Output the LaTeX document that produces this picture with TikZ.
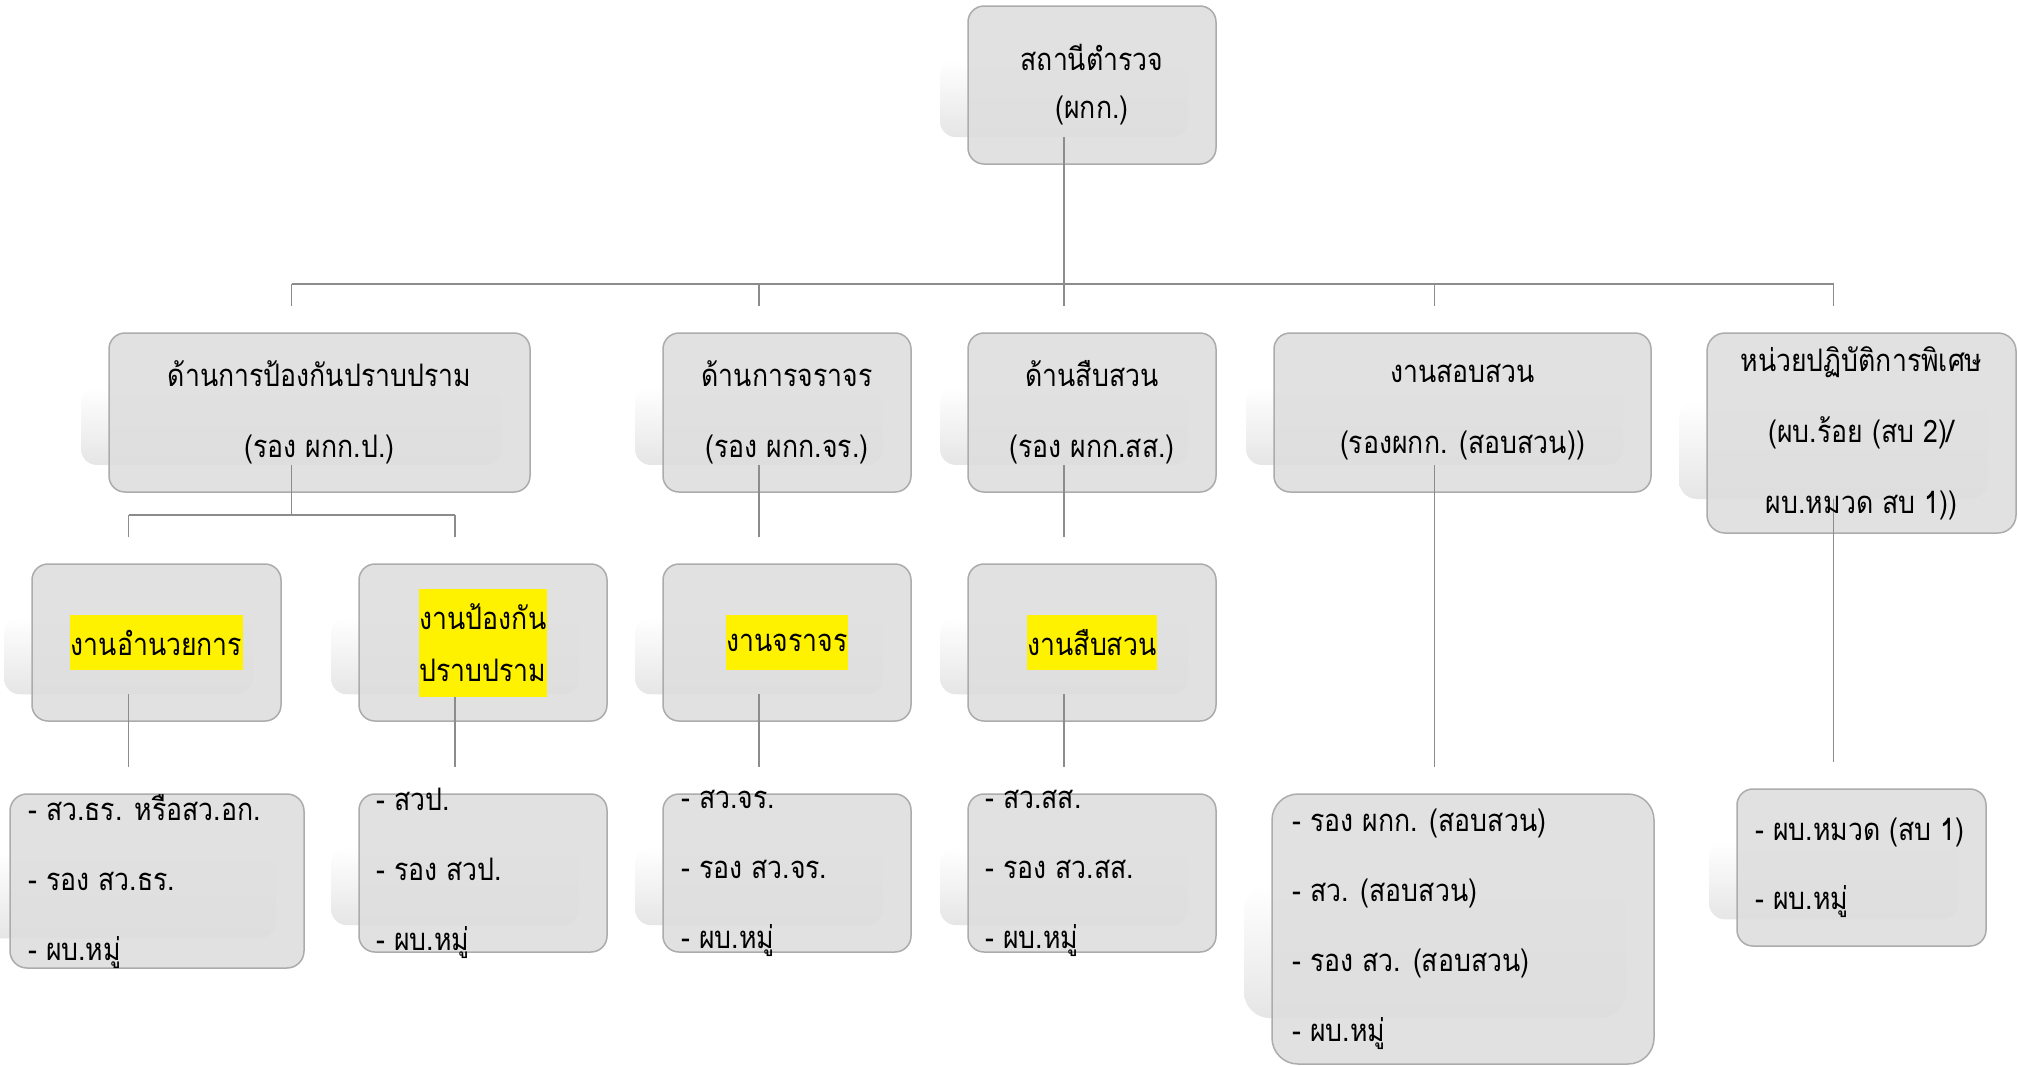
\documentclass[tikz,border=0pt]{standalone}
\usepackage{fontspec}
\newfontfamily\thaifont[Script=Thai,FakeStretch=0.86]{Loma}
\usetikzlibrary{calc}
\tikzset{
  boxst/.style={draw=gray!65, line width=1.5pt, fill=black!13, fill opacity=0.9, inner sep=0pt, outer sep=0pt},
  shadowst/.style={top color=white, bottom color=black!10, draw=none},
  conn/.style={draw=black!45, line width=1.5pt},
  txt/.style={font=\thaifont\fontsize{31}{71}\selectfont, align=center, inner sep=0pt, text=black},
  txttop/.style={font=\thaifont\fontsize{31}{48}\selectfont, align=center, inner sep=0pt, text=black},
  hl/.style={font=\thaifont\fontsize{31}{52}\selectfont, align=center, inner ysep=0pt, inner xsep=0.5pt, fill=yellow, text=black},
  lst/.style={font=\thaifont\fontsize{31}{70}\selectfont, align=left, inner sep=0pt, anchor=west, text=black},
}
% name, x1, y1, x2, y2, radius
\newcommand\obox[6]{%
  \path[shadowst, rounded corners=#6pt] ({#2-28},{#3+0.34*(#5-#3)}) rectangle ({#4-28},{#5-0.17*(#5-#3)});
  \node[boxst, rounded corners=#6pt, minimum width={#4-#2}, minimum height={#5-#3}] (#1) at ({(#2+#4)/2},{(#3+#5)/2}) {};
  \coordinate (#1s) at ({(#2+#4)/2-28},{#5-0.17*(#5-#3)});
}
\begin{document}
\begin{tikzpicture}[x=1pt,y=-1pt]
\useasboundingbox (0,0) rectangle (2018,1066);
\fill[white] (0,0) rectangle (2018,1066);

% boxes
\obox{T}{968}{6}{1216}{164}{16}
\obox{A}{109}{333}{530}{492}{16}
\obox{B}{663}{333}{911}{492}{16}
\obox{C}{968}{333}{1216}{492}{16}
\obox{D}{1274}{333}{1651}{492}{16}
\obox{E}{1707}{333}{2016}{533}{18}
\obox{a1}{32}{564}{281}{721}{16}
\obox{a2}{359}{564}{607}{721}{16}
\obox{b}{663}{564}{911}{721}{16}
\obox{c}{968}{564}{1216}{721}{16}
\obox{a1L}{10}{794}{304}{968}{17}
\obox{a2L}{359}{794}{607}{952}{16}
\obox{bL}{663}{794}{911}{952}{16}
\obox{cL}{968}{794}{1216}{952}{16}
\obox{dL}{1272}{794}{1654}{1064}{26}
\obox{eL}{1737}{789}{1986}{946}{16}

% connectors
\coordinate (busL) at (292,284);
\coordinate (busR) at (1834,284);
\coordinate (r3t) at (0,537);
\coordinate (r4t) at (0,767);
\coordinate (aj) at (0,515);
\draw[conn] (busL) -- (busR);
\draw[conn] (Ts) -- (Ts |- busL);
\foreach \n in {A,B,C,D,E} {
  \draw[conn] (\n s |- busL) -- ++(0,22);
}
\draw[conn] (As) -- (As |- aj);
\draw[conn] (a1s |- aj) -- (a2s |- aj);
\draw[conn] (a1s |- aj) -- (a1s |- r3t);
\draw[conn] (a2s |- aj) -- (a2s |- r3t);
\draw[conn] (Bs) -- (Bs |- r3t);
\draw[conn] (Cs) -- (Cs |- r3t);
\draw[conn] (Ds) -- (Ds |- r4t);
\draw[conn] (Es) -- ++(0,263);
\foreach \n in {a1,a2,b,c} {
  \draw[conn] (\n s) -- (\n s |- r4t);
}

% texts
\node[txttop] (Tt) at (T) {สถานีตำรวจ\\(ผกก.)};
\node[txt] (At) at (A) {ด้านการป้องกันปราบปราม\\(รอง ผกก.ป.)};
\node[txt] (Bt) at (B) {ด้านการจราจร\\(รอง ผกก.จร.)};
\node[txt] (Ct) at (C) {ด้านสืบสวน\\(รอง ผกก.สส.)};
\node[txt] (Dt) at (D) {งานสอบสวน\\(รองผกก. (สอบสวน))};
\node[txt] (Et) at (E) {หน่วยปฏิบัติการพิเศษ\\(ผบ.ร้อย (สบ 2)/\\ผบ.หมวด สบ 1))};

\node[hl, minimum height=55] (a1t) at (a1) {งานอำนวยการ};
\node[hl, minimum height=108] (a2t) at (a2) {งานป้องกัน\\ปราบปราม};
\node[hl, minimum height=55] (bt) at (b) {งานจราจร};
\node[hl, minimum height=55] (ct) at (c) {งานสืบสวน};

\node[lst] (a1Lt) at ([xshift=18pt]a1L.west) {- สว.ธร. หรือสว.อก.\\- รอง สว.ธร.\\- ผบ.หมู่};
\node[lst] (a2Lt) at ([xshift=17pt]a2L.west) {- สวป.\\- รอง สวป.\\- ผบ.หมู่};
\node[lst] (bLt) at ([xshift=18pt]bL.west) {- สว.จร.\\- รอง สว.จร.\\- ผบ.หมู่};
\node[lst] (cLt) at ([xshift=17pt]cL.west) {- สว.สส.\\- รอง สว.สส.\\- ผบ.หมู่};
\node[lst] (dLt) at ([xshift=20pt]dL.west) {- รอง ผกก. (สอบสวน)\\- สว. (สอบสวน)\\- รอง สว. (สอบสวน)\\- ผบ.หมู่};
\node[lst, font=\thaifont\fontsize{31}{69}\selectfont] (eLt) at ([xshift=18pt]eL.west) {- ผบ.หมวด (สบ 1)\\- ผบ.หมู่};
\end{tikzpicture}
\end{document}
